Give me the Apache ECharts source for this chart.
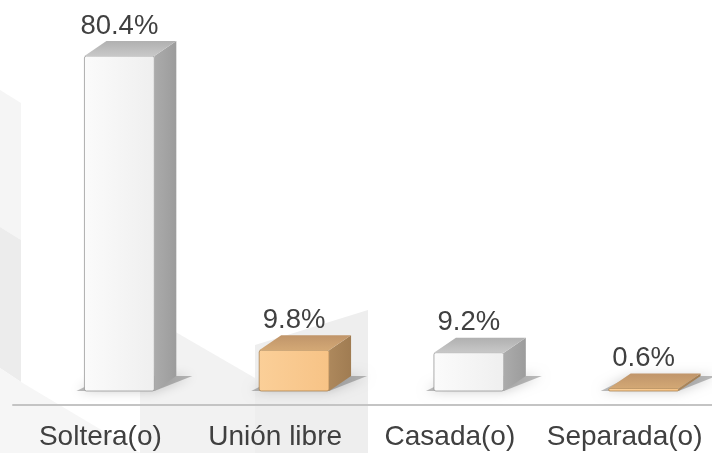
<!DOCTYPE html>
<html>
<head>
<meta charset="utf-8">
<script src="https://cdn.jsdelivr.net/npm/echarts@6/dist/echarts.min.js"></script>
<style>
  html, body { margin: 0; padding: 0; background: #fff; }
  #chart { width: 712px; height: 453px; }
</style>
</head>
<body>
<div id="chart"></div>
<script>
var categories = ['Soltera(o)', 'Unión libre', 'Casada(o)', 'Separada(o)'];
var values = [80.4, 9.8, 9.2, 0.6];
var valueLabels = ['80.4%', '9.8%', '9.2%', '0.6%'];

// colour set per bar (white / orange alternating)
var looks = ['white', 'orange', 'white', 'orange'];
var palette = {
    white:  { front: ['#fbfbfb', '#efefef'], side: ['#ababab', '#9c9c9c'], top: ['#b0b0b0', '#c8c8c8'], edge: 'rgba(140,140,140,0.7)' },
    orange: { front: ['#fbcf98', '#f7c386'], side: ['#ad885c', '#a07c52'], top: ['#c0956a', '#d3a875'], edge: 'rgba(160,120,70,0.7)' }
};

var chart = echarts.init(document.getElementById('chart'));

var FONT = "'Liberation Sans', Arial, sans-serif";
var SHIFT = 19;   // 3d front plane sits right of the label
var DX = 22, DY = 15;

function renderItem(params, api) {
    var i = api.value(0);
    var v = api.value(1);
    var top = api.coord([i, v]);
    var base = api.coord([i, 0]);
    var fw = api.size([1, 0])[0] * 0.4;
    var cx = base[0] + SHIFT;
    var x0 = cx - fw / 2, x1 = cx + fw / 2;
    var yb = base[1], yt = top[1];
    var p = palette[looks[i]];

    return {
        type: 'group',
        children: [
            {
                type: 'polygon',
                shape: { points: [[x0 - 8, yb], [x1, yb], [x1 + DX + 16, yb - DY], [x0 + DX, yb - DY]] },
                style: { fill: 'rgba(90,90,90,0.4)', shadowBlur: 12, shadowColor: 'rgba(0,0,0,0.5)' }
            },
            {
                type: 'rect',
                shape: { x: x0, y: yt, width: fw, height: Math.max(yb - yt, 0.5), r: 2 },
                style: {
                    fill: new echarts.graphic.LinearGradient(0, 0, 1, 0, [
                        { offset: 0, color: p.front[0] }, { offset: 1, color: p.front[1] }
                    ]),
                    stroke: p.edge, lineWidth: 1
                }
            },
            {
                type: 'polygon',
                shape: { points: [[x1, yt], [x1 + DX, yt - DY], [x1 + DX, yb - DY], [x1, yb]] },
                style: {
                    fill: new echarts.graphic.LinearGradient(0, 0, 1, 0, [
                        { offset: 0, color: p.side[0] }, { offset: 1, color: p.side[1] }
                    ])
                }
            },
            {
                type: 'polygon',
                shape: { points: [[x0, yt], [x0 + DX, yt - DY], [x1 + DX, yt - DY], [x1, yt]] },
                style: {
                    fill: new echarts.graphic.LinearGradient(0, 0, 0, 1, [
                        { offset: 0, color: p.top[0] }, { offset: 1, color: p.top[1] }
                    ])
                }
            },
            {
                type: 'text',
                style: {
                    text: valueLabels[i],
                    x: cx, y: yt - DY - 15,
                    align: 'center', verticalAlign: 'middle',
                    fill: '#404040', fontSize: 27.5, fontFamily: FONT
                }
            }
        ]
    };
}

var seriesData = values.map(function (v, i) { return [i, v]; });

// faint watermark shapes in the background
var bgShapes = [
    { pts: [[0, 90], [21, 103], [21, 240], [0, 227]], fill: '#f5f5f5' },
    { pts: [[0, 227], [21, 240], [21, 382], [0, 368]], fill: '#ececec' },
    { pts: [[0, 368], [21, 382], [140, 453], [0, 453]], fill: '#f6f6f6' },
    { pts: [[160, 323], [255, 378], [255, 453], [140, 453], [140, 323]], fill: '#f2f2f2' },
    { pts: [[255, 345], [368, 310], [368, 453], [255, 453]], fill: '#eeeeee' }
];

option = {
    backgroundColor: '#ffffff',
    animation: false,
    graphic: bgShapes.map(function (s) {
        return { type: 'polygon', silent: true, z: -10, shape: { points: s.pts }, style: { fill: s.fill } };
    }),
    grid: {
        left: 13,
        right: -3,
        top: 16,
        bottom: 62
    },
    xAxis: {
        type: 'category',
        data: categories,
        offset: 14,
        axisTick: { show: false },
        axisLine: { onZero: false, lineStyle: { color: '#c4c4c4', width: 2 } },
        axisLabel: {
            color: '#404040',
            fontSize: 28,
            fontFamily: FONT,
            margin: 18,
            interval: 0
        }
    },
    yAxis: {
        type: 'value',
        min: 0,
        max: 90,
        show: false,
        splitLine: { show: false }
    },
    series: [
        {
            type: 'custom',
            renderItem: renderItem,
            data: seriesData,
            clip: false
        }
    ]
};

chart.setOption(option);
</script>
</body>
</html>
